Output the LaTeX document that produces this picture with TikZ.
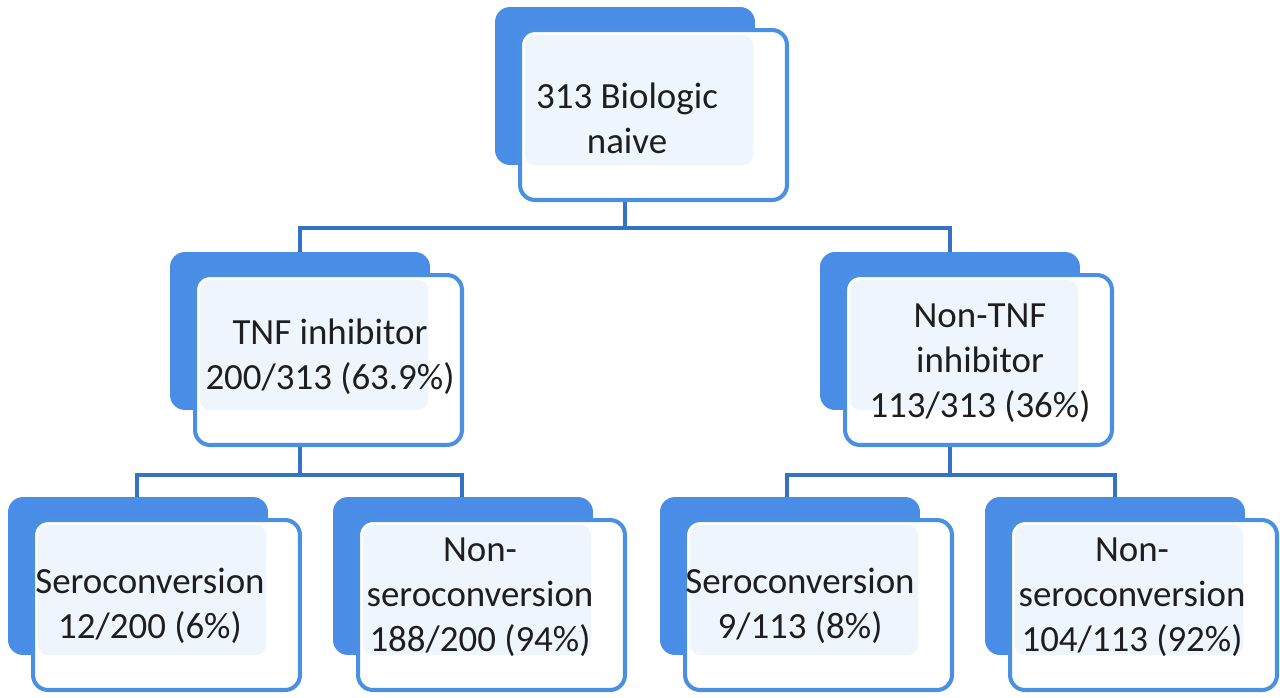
\documentclass[tikz,border=0pt]{standalone}
\usepackage{fontspec}
\setmainfont{Carlito}
\definecolor{boxblue}{HTML}{4A8DE6}
\definecolor{edgeblue}{HTML}{4A90E2}
\definecolor{lineblue}{HTML}{3672C4}
\definecolor{paleblue}{HTML}{EEF5FC}
\definecolor{inktext}{HTML}{1E1E1E}
\tikzset{
  backbox/.style = {fill=boxblue, rounded corners=0.3cm, minimum width=5.2cm, minimum height=3.16cm, inner sep=0pt},
  frontbox/.style = {draw=edgeblue, line width=2.3pt, fill=white, rounded corners=0.3cm, minimum width=5.34cm, minimum height=3.4cm, inner sep=0pt},
  palearea/.style = {fill=paleblue, rounded corners=0.2cm},
  boxtext/.style = {align=center, text=inktext, font=\fontsize{21}{25.5}\selectfont},
  link/.style = {draw=lineblue, line width=2.3pt}
}
% one panel: name, x, y (top left of the back box), text x, text y, text
\newcommand\panel[6]{%
  \node[backbox] (#1B) at (#2+130,#3+79) {};
  \node[frontbox] (#1) at (#2+158.5,#3+108) {};
  \fill[palearea] (#2+30,#3+28) rectangle (#2+258,#3+158);
  \node[boxtext] (#1T) at (#4,#5) {#6};
}

\begin{document}
\begin{tikzpicture}[x=0.02cm, y=-0.02cm]
\useasboundingbox (0,0) rectangle (1280,697);

% connectors
\coordinate (topD) at (625,200);
\coordinate (tnfD) at (300,442);
\coordinate (nonD) at (950,445);
\coordinate (topH) at (625,228);
\coordinate (tnfH) at (300,475);
\coordinate (nonH) at (950,475);
\coordinate (tnfU) at (300,252);
\coordinate (nonU) at (950,252);
\coordinate (s1U) at (137,497);
\coordinate (n1U) at (462,497);
\coordinate (s2U) at (787,497);
\coordinate (n2U) at (1115,497);
\draw[link] (topD) -- (topH);
\draw[link] (topH) -| (tnfU);
\draw[link] (topH) -| (nonU);
\draw[link] (tnfD) -- (tnfH);
\draw[link] (tnfH) -| (s1U);
\draw[link] (tnfH) -| (n1U);
\draw[link] (nonD) -- (nonH);
\draw[link] (nonH) -| (s2U);
\draw[link] (nonH) -| (n2U);

% panels
\panel{top}{495}{7}{627}{118}{313 Biologic\\naive}
\panel{tnf}{170}{252}{330}{357}{TNF inhibitor\\200/313 (63.9\%)}
\panel{non}{820}{252}{980}{363}{Non-TNF\\inhibitor\\113/313 (36\%)}
\panel{sa}{8}{497}{150}{606}{Seroconversion\\12/200 (6\%)}
\panel{na}{333}{497}{480}{597}{Non-\\seroconversion\\188/200 (94\%)}
\panel{sb}{660}{497}{800}{606}{Seroconversion\\9/113 (8\%)}
\panel{nb}{985}{497}{1132}{597}{Non-\\seroconversion\\104/113 (92\%)}
\end{tikzpicture}
\end{document}
